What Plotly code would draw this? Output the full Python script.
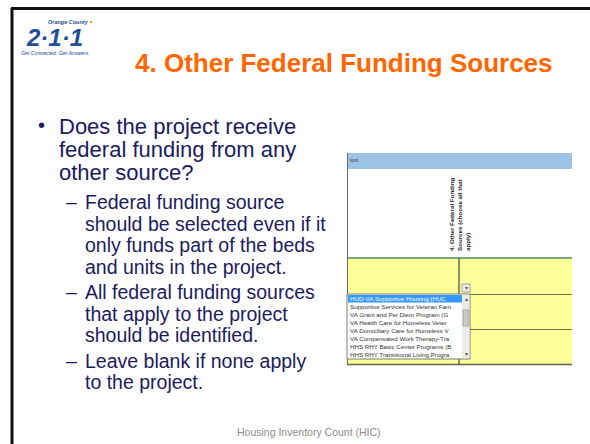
import plotly.graph_objects as go

# slide text
title = "4. Other Federal Funding Sources"
bullet = ["Does the project receive", "federal funding from any", "other source?"]
sub_bullets = [
    ["Federal funding source", "should be selected even if it",
     "only funds part of the beds", "and units in the project."],
    ["All federal funding sources", "that apply to the project",
     "should be identified."],
    ["Leave blank if none apply", "to the project."],
]
footer = "Housing Inventory Count (HIC)"

# spreadsheet screenshot text
column_header = ["4. Other Federal Funding", "Sources (choose all that", "apply)"]
funding_options = [
    "HUD-VA Supportive Housing (HUC",
    "Supportive Services for Veteran Fam",
    "VA Grant and Per Diem Program (G",
    "VA Health Care for Homeless Veter",
    "VA Domiciliary Care for Homeless V",
    "VA Compensated Work Therapy-Tra",
    "HHS RHY Basic Center Programs (B",
    "HHS RHY Transitional Living Progra",
]

FONT = "Arial, Liberation Sans, sans-serif"
NAVY = "#1B1B5E"
ORANGE = "#FF6600"
LOGO_BLUE = "#1E4E9C"

fig = go.Figure()
shapes = []
ann = []


def text(x, y, s, size, color, **kw):
    d = dict(x=x, y=y, xref="x", yref="y", text=s, showarrow=False,
             xanchor=kw.pop("xanchor", "left"), yanchor="middle",
             font=dict(family=FONT, size=size, color=color), borderpad=0)
    d.update(kw)
    ann.append(d)


def rect(x0, y0, x1, y1, fill, line=None, w=1):
    shapes.append(dict(type="rect", x0=x0, y0=y0, x1=x1, y1=y1, xref="x", yref="y",
                       fillcolor=fill, line=dict(color=line or fill, width=w if line else 0)))


def seg(x0, y0, x1, y1, color, w=1):
    shapes.append(dict(type="line", x0=x0, y0=y0, x1=x1, y1=y1, xref="x", yref="y",
                       line=dict(color=color, width=w)))


# slide frame
seg(11, 8.5, 590, 8.5, "#111111", 3)
seg(12, 8, 12, 444, "#111111", 3)

# logo
text(47, 22, "<b><i>Orange County</i></b>", 5.5, LOGO_BLUE)
text(89, 21, "•", 7, ORANGE)
text(54, 37.5, "<b><i>2·1·1</i></b>", 24, LOGO_BLUE, xanchor="center")
text(20, 52.5, "<i>Get Connected. Get Answers.</i>", 5.2, LOGO_BLUE)

# title
text(344, 63, "<b>" + title + "</b>", 26, ORANGE, xanchor="center")

# bullets
y = 126
text(37, y - 1, "•", 20, NAVY)
for line in bullet:
    text(58, y, line, 22, NAVY)
    y += 23
y += 7
for group in sub_bullets:
    text(65, y, "–", 19.5, NAVY)
    for line in group:
        text(84, y, line, 19.5, NAVY)
        y += 21.5
    y += 4

# screenshot of the HIC spreadsheet
rect(347, 153, 572, 169, "#9DC3E6")
text(349, 160, "ion", 6, "#333333")
rect(347, 169, 572, 258, "#FFFFFF")
rect(347, 258, 572, 365, "#FFFF99")
seg(347, 258, 572, 258, "#79A879", 2)
seg(347, 294.5, 572, 294.5, "#6B7257", 1)
seg(347, 329.5, 572, 329.5, "#6B7257", 1)
seg(347, 364.5, 572, 364.5, "#5E6450", 1.5)
seg(459, 258, 459, 365, "#5E6F50", 1.5)
seg(347.5, 153, 347.5, 365, "#666666", 1)

text(459, 215, "<b>" + "<br>".join(column_header) + "</b>", 6.2, "#222222",
     xanchor="center", textangle=-90, align="left")

# dropdown list
rect(462, 284, 470, 292, "#F0F0F0", "#A0A0A0")
text(466, 288, "▾", 6, "#555555", xanchor="center")
rect(347, 294, 470, 359, "#FFFFFF", "#7A7A7A")
rect(348, 295, 462, 302.5, "#3399FF")
row_h = 8
for i, opt in enumerate(funding_options):
    col = "#FFFFFF" if i == 0 else "#333333"
    text(349, 298.8 + i * row_h, opt, 6.2, col)
rect(462, 295, 469.5, 358, "#ECECEC")
rect(463, 310, 469, 326, "#C9C9C9", "#A8A8A8")
text(466, 299, "▴", 6, "#555555", xanchor="center")
text(466, 354, "▾", 6, "#555555", xanchor="center")

# footer
text(309, 432, footer, 10.5, "#8C8C8C", xanchor="center")

fig.update_layout(
    width=590, height=444,
    margin=dict(l=0, r=0, t=0, b=0),
    paper_bgcolor="white", plot_bgcolor="white",
    xaxis=dict(range=[0, 590], visible=False, fixedrange=True),
    yaxis=dict(range=[444, 0], visible=False, fixedrange=True),
    shapes=shapes, annotations=ann, showlegend=False,
)
fig.write_html("out.html", config={"displayModeBar": False},
               post_script="document.body.style.margin='0';")
